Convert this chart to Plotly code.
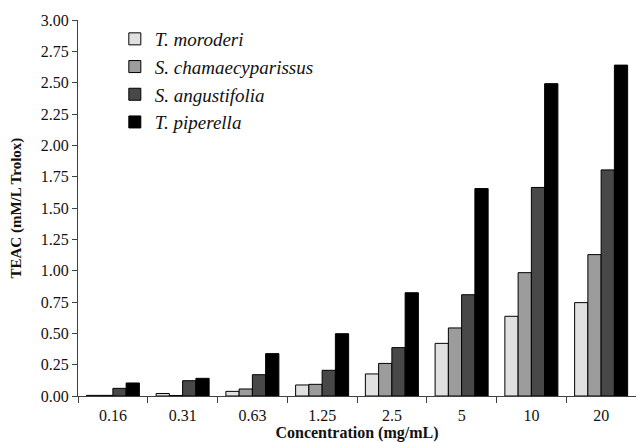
import plotly.graph_objects as go

categories = ["0.16", "0.31", "0.63", "1.25", "2.5", "5", "10", "20"]
t_moroderi = [0.005, 0.02, 0.037, 0.088, 0.176, 0.42, 0.636, 0.745]
s_chamaecyparissus = [0.005, 0.004, 0.056, 0.093, 0.26, 0.543, 0.984, 1.128]
s_angustifolia = [0.061, 0.122, 0.17, 0.205, 0.386, 0.808, 1.664, 1.804]
t_piperella = [0.104, 0.141, 0.338, 0.497, 0.824, 1.655, 2.492, 2.64]

series = [
    ("T. moroderi", t_moroderi, "#e0e0e0"),
    ("S. chamaecyparissus", s_chamaecyparissus, "#9c9c9c"),
    ("S. angustifolia", s_angustifolia, "#484848"),
    ("T. piperella", t_piperella, "#000000"),
]

fig = go.Figure()
for i, (name, vals, col) in enumerate(series):
    fig.add_trace(go.Bar(
        x=categories, y=vals, name="<i>" + name + "</i>",
        marker=dict(color=col, line=dict(color="#000000", width=1)),
    ))

serif = "Liberation Serif"
fig.update_layout(
    width=636, height=442,
    margin=dict(l=78, r=0, t=20, b=46),
    paper_bgcolor="white", plot_bgcolor="white",
    barmode="group", bargap=0.24, bargroupgap=0,
    font=dict(family=serif, size=16, color="#111111"),
    legend=dict(
        x=0.066, y=1.0, xanchor="left", yanchor="top",
        font=dict(family=serif, size=19, color="#111111"),
        bgcolor="rgba(0,0,0,0)",
        itemwidth=30,
    ),
    xaxis=dict(
        showline=True, linecolor="#404040", linewidth=1,
        ticks="outside", tickson="boundaries", ticklen=6, tickcolor="#404040",
        ticklabelstandoff=5, automargin=False,
        tickfont=dict(family=serif, size=16, color="#111111"),
        title=dict(text="<b>Concentration (mg/mL)</b>", font=dict(family=serif, size=16, color="#111111"), standoff=4),
    ),
    yaxis=dict(
        range=[0, 3.0], tickvals=[0, 0.25, 0.5, 0.75, 1.0, 1.25, 1.5, 1.75, 2.0, 2.25, 2.5, 2.75, 3.0],
        tickformat=".2f",
        showline=True, linecolor="#404040", linewidth=1,
        ticks="outside", ticklen=5, tickcolor="#404040",
        showgrid=False, zeroline=False, automargin=False,
        tickfont=dict(family=serif, size=16, color="#111111"),
    ),
    annotations=[dict(
        text="<b>TEAC (mM/L Trolox)</b>", textangle=-90,
        xref="paper", yref="paper", x=-0.112, y=0.5,
        xanchor="center", yanchor="middle", showarrow=False,
        font=dict(family=serif, size=15, color="#111111"),
    )],
)

fig.write_html("out.html")
